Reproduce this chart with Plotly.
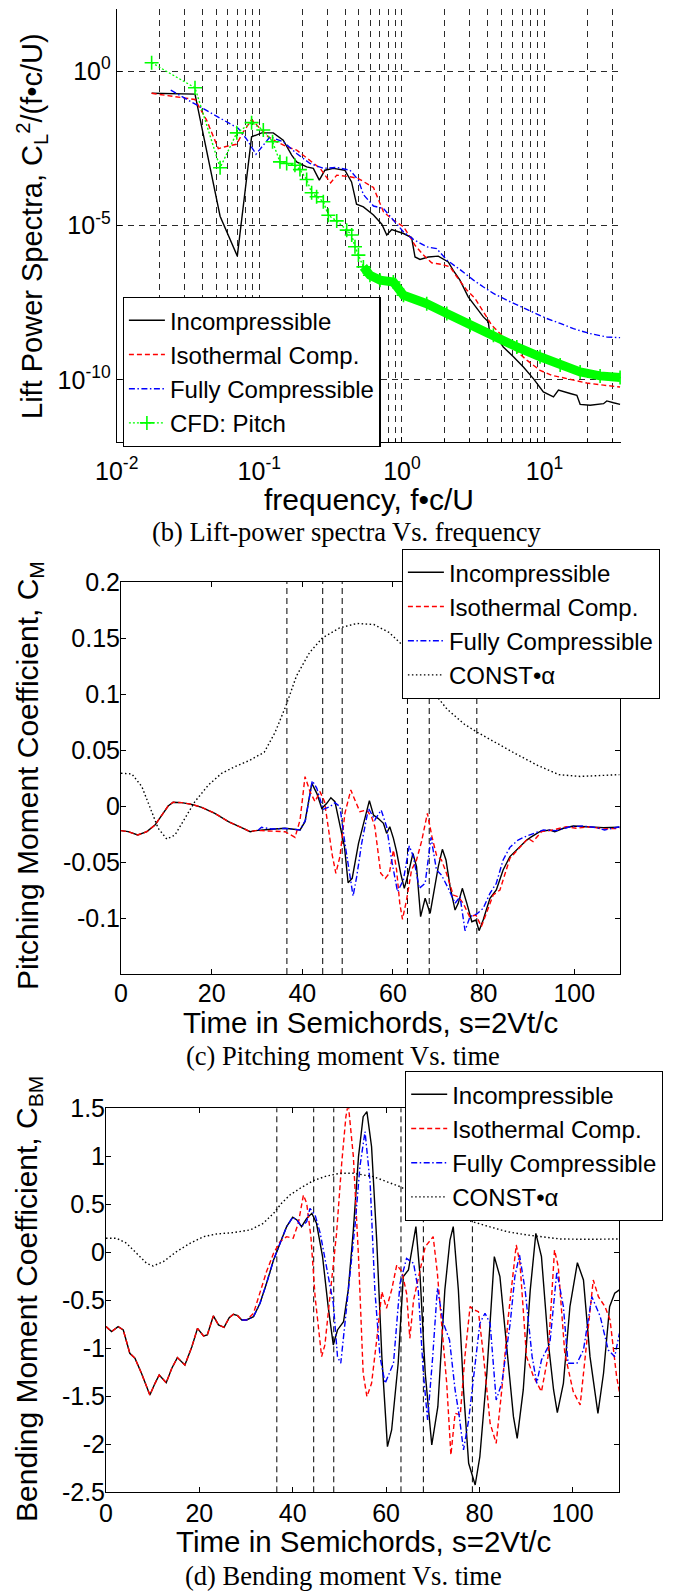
import plotly.graph_objects as go

W, H = 674, 1591
SANS = "Liberation Sans, Arial, Helvetica, sans-serif"
SERIF = "Liberation Serif, Times New Roman, serif"

# ---------------- (b) lift power spectra ----------------
inc_freq = [0.01758, 0.0354, 0.0531, 0.0701, 0.0883, 0.104, 0.1253, 0.1472, 0.1687, 0.1828,
            0.2148, 0.2393, 0.2636, 0.2884, 0.3304, 0.398, 0.4436, 0.4808, 0.537, 0.632,
            0.723, 0.783, 0.849, 1.026, 1.169, 1.236, 1.340, 1.531, 1.799, 2.113,
            2.291, 2.553, 2.917, 3.342, 3.724, 4.036, 4.102, 4.624, 5.140, 6.053,
            7.112, 8.356, 9.817, 11.56, 12.53, 15.14, 16.87, 17.78, 20.89, 25.94,
            27.35, 30.48, 33.88]
inc_psd = [0.1905, 0.1799, 2.0e-5, 1.02e-6, 7.41e-3, 1.0e-2, 1.0e-2, 5.75e-3, 1.91e-3, 1.15e-3,
           7.94e-4, 7.08e-4, 2.95e-4, 6.17e-4, 7.08e-4, 6.17e-4, 2.57e-4, 4.9e-5, 3.98e-5, 2.19e-5,
           1.10e-5, 4.9e-6, 7.41e-6, 5.5e-6, 4.07e-6, 9.55e-7, 7.94e-7, 9.55e-7, 1.02e-6, 6.61e-7,
           3.55e-7, 1.70e-7, 4.9e-8, 2.04e-8, 1.10e-8, 7.59e-9, 4.07e-9, 2.45e-9, 1.17e-9, 5.62e-10,
           2.63e-10, 1.10e-10, 4.07e-11, 2.82e-11, 4.68e-11, 3.63e-11, 3.16e-11, 1.62e-11, 1.51e-11, 1.70e-11,
           2.09e-11, 1.82e-11, 1.62e-11]

iso_freq = [0.01758, 0.0263, 0.0354, 0.0427, 0.0516, 0.0575, 0.0692, 0.0773, 0.0883, 0.1012,
            0.1156, 0.1324, 0.1556, 0.1828, 0.2265, 0.2667, 0.3162, 0.3491, 0.4325, 0.4955,
            0.632, 0.6855, 0.743, 0.871, 1.026, 1.140, 1.236, 1.416, 1.618, 1.901,
            2.178, 2.427, 2.851, 3.258, 3.724, 4.266, 4.887, 6.053, 7.516, 9.311,
            11.25, 14.32, 19.82, 25.94, 33.88]
iso_psd = [0.1905, 0.148, 0.120, 0.0257, 3.09e-3, 3.55e-3, 4.27e-3, 1.07e-2, 2.69e-2, 1.38e-2,
           7.41e-3, 5.13e-3, 3.55e-3, 2.75e-3, 1.32e-3, 7.08e-4, 2.40e-4, 4.27e-4, 3.80e-4, 3.31e-4,
           1.70e-4, 6.61e-5, 2.75e-5, 1.48e-5, 9.12e-6, 4.27e-6, 2.29e-6, 1.10e-6, 6.17e-7, 5.50e-7,
           4.57e-7, 2.19e-7, 8.13e-8, 4.37e-8, 1.58e-8, 5.89e-9, 3.16e-9, 1.05e-9, 4.37e-10, 2.04e-10,
           1.41e-10, 1.10e-10, 7.94e-11, 6.76e-11, 5.89e-11]

fc_freq = [0.02393, 0.0364, 0.0504, 0.0714, 0.0817, 0.0948, 0.1189, 0.1472, 0.1828, 0.2265,
           0.2812, 0.3491, 0.4325, 0.4955, 0.537, 0.583, 0.632, 0.743, 0.871, 1.026,
           1.205, 1.493, 1.754, 2.065, 2.559, 3.177, 3.733, 4.385, 5.445, 6.745,
           8.356, 10.37, 12.88, 15.96, 20.89, 27.35, 33.88]
fc_psd = [0.240, 0.0794, 0.0331, 0.0138, 6.17e-3, 2.04e-3, 7.41e-3, 5.13e-3, 2.14e-3, 1.02e-3,
          7.08e-4, 7.59e-4, 6.17e-4, 2.95e-4, 1.0e-4, 6.31e-5, 4.27e-5, 3.55e-5, 1.48e-5, 6.17e-6,
          3.55e-6, 2.04e-6, 1.78e-6, 7.59e-7, 3.72e-7, 1.70e-7, 1.02e-7, 6.31e-8, 3.80e-8, 2.45e-8,
          1.58e-8, 9.77e-9, 6.76e-9, 4.57e-9, 3.16e-9, 2.45e-9, 2.34e-9]

cfd_freq = [0.01758, 0.0354, 0.0531, 0.0695, 0.0883, 0.1067, 0.1239, 0.1396, 0.1556, 0.1778,
            0.1928, 0.2148, 0.2328, 0.2523, 0.2812, 0.3048, 0.3491, 0.4102, 0.4446, 0.4688,
            0.4955, 0.537, 0.597, 0.703, 0.871, 1.026, 1.493, 2.065, 3.013, 4.385,
            6.397, 9.311, 12.88, 17.78, 24.55, 33.88]
cfd_psd = [1.862, 0.288, 7.41e-4, 1.0e-2, 2.14e-2, 1.23e-2, 5.13e-3, 1.15e-3, 1.02e-3, 8.91e-4,
           6.46e-4, 3.09e-4, 1.15e-4, 8.51e-5, 5.89e-5, 2.14e-5, 1.41e-5, 7.08e-6, 4.90e-6, 2.04e-6,
           1.10e-6, 4.57e-7, 2.45e-7, 1.70e-7, 1.48e-7, 5.50e-8, 2.95e-8, 1.41e-8, 5.89e-9, 2.82e-9,
           1.17e-9, 5.62e-10, 3.02e-10, 1.82e-10, 1.35e-10, 1.20e-10]
cfd_dense_from = 21   # from here on the CFD samples are packed into a solid band

# ---------------- (c) pitching moment ----------------
mom_inc_t = [0, 1.6, 3.7, 5.7, 7.5, 9.3, 10.4, 11.5, 13.4, 15.6,
             17.8, 20.7, 23.7, 26.6, 28.5, 29.6, 31.0, 33.2, 36.2, 39.5,
             40.6, 42.1, 43.2, 44.3, 45.4, 46.3, 47.2, 48.3, 49.3, 50.1,
             51.0, 52.4, 53.5, 54.8, 55.7, 56.7, 57.9, 58.6, 59.3, 60.1,
             60.8, 61.7, 62.5, 63.4, 64.4, 65.2, 66.1, 67.1, 68.2, 69.3,
             70.0, 70.9, 71.7, 72.6, 73.7, 74.4, 75.3, 76.3, 77.4, 78.3,
             79.0, 79.9, 81.4, 82.8, 84.3, 85.8, 88.0, 89.5, 90.6, 92.4,
             94.6, 95.7, 97.6, 99.8, 102.7, 106.4, 110.0]
mom_inc = [-0.0220, -0.0229, -0.0259, -0.0229, -0.0170, -0.0065, 0.0000, 0.0033, 0.0030, 0.0015,
           -0.0012, -0.0065, -0.0140, -0.0193, -0.0229, -0.0220, -0.0214, -0.0208, -0.0199, -0.0214,
           -0.0140, 0.0202, 0.0113, -0.0021, 0.0024, 0.0074, 0.0039, -0.0185, -0.0363, -0.0685,
           -0.0646, -0.0333, -0.0155, 0.0048, -0.0080, -0.0110, -0.0155, -0.0244, -0.0185, -0.0289,
           -0.0408, -0.0601, -0.0735, -0.0601, -0.0423, -0.0542, -0.0988, -0.0824, -0.0958, -0.0720,
           -0.0542, -0.0387, -0.0482, -0.0720, -0.0929, -0.0869, -0.0735, -0.0869, -0.1033, -0.1018,
           -0.1113, -0.1018, -0.0824, -0.0750, -0.0571, -0.0452, -0.0363, -0.0304, -0.0274, -0.0229,
           -0.0214, -0.0229, -0.0199, -0.0179, -0.0185, -0.0193, -0.0190]

mom_iso_t = [0, 1.6, 3.7, 5.7, 7.5, 9.3, 10.4, 11.5, 13.4, 15.6,
             17.8, 20.7, 23.7, 26.6, 28.5, 29.6, 31.0, 36.2, 38.4, 39.5,
             40.6, 41.7, 42.8, 43.9, 44.9, 45.7, 46.6, 47.4, 48.3, 49.4,
             50.7, 51.6, 52.7, 54.2, 55.3, 56.0, 56.6, 57.3, 58.3, 59.2,
             60.1, 60.8, 61.5, 62.1, 63.0, 64.1, 65.2, 66.3, 67.6, 68.6,
             69.6, 70.7, 71.8, 73.3, 74.4, 75.5, 76.9, 78.3, 79.5, 80.6,
             82.1, 83.6, 85.8, 88.0, 89.8, 90.9, 92.8, 95.3, 98.2, 100.4,
             103.4, 106.4, 110.0]
mom_iso = [-0.0220, -0.0229, -0.0259, -0.0229, -0.0170, -0.0065, 0.0000, 0.0033, 0.0030, 0.0015,
           -0.0012, -0.0065, -0.0140, -0.0193, -0.0229, -0.0220, -0.0220, -0.0230, -0.0280, -0.0125,
           0.0262, 0.0128, 0.0039, 0.0128, 0.0039, -0.0185, -0.0438, -0.0601, -0.0452, -0.0065,
           0.0143, 0.0054, -0.0051, -0.0036, -0.0100, -0.0185, -0.0363, -0.0601, -0.0646, -0.0601,
           -0.0393, -0.0571, -0.0869, -0.1012, -0.0839, -0.0571, -0.0482, -0.0318, -0.0065, -0.0274,
           -0.0438, -0.0482, -0.0601, -0.0795, -0.0810, -0.0869, -0.0988, -0.0973, -0.1077, -0.0958,
           -0.0795, -0.0750, -0.0467, -0.0369, -0.0289, -0.0318, -0.0229, -0.0214, -0.0185, -0.0199,
           -0.0185, -0.0205, -0.0199]

mom_fc_t = [30.3, 31.0, 33.2, 36.2, 39.5, 40.7, 42.2, 43.2, 44.6, 46.1,
            47.2, 48.3, 49.4, 50.4, 51.2, 52.0, 53.1, 54.6, 56.0, 57.4,
            58.6, 59.7, 61.0, 62.3, 63.6, 64.5, 65.8, 67.1, 68.4, 69.6,
            70.7, 72.2, 73.7, 74.8, 75.9, 77.0, 78.5, 79.9, 81.4, 82.8,
            84.3, 85.8, 87.6, 89.5, 91.7, 93.2, 96.1, 99.0, 101.9, 104.9,
            106.7, 110.0]
mom_fc = [-0.0214, -0.0190, -0.0205, -0.0200, -0.0214, -0.0125, 0.0226, 0.0158, -0.0030, -0.0006,
          0.0030, -0.0006, -0.0333, -0.0586, -0.0804, -0.0631, -0.0333, -0.0021, -0.0125, -0.0036,
          -0.0185, -0.0482, -0.0765, -0.0661, -0.0357, -0.0452, -0.0735, -0.0690, -0.0280, -0.0571,
          -0.0616, -0.0735, -0.0869, -0.0810, -0.1113, -0.0988, -0.0964, -0.0914, -0.0780, -0.0690,
          -0.0482, -0.0369, -0.0304, -0.0268, -0.0238, -0.0214, -0.0220, -0.0185, -0.0179, -0.0193,
          -0.0214, -0.0185]

mom_alpha_t = [0, 2.4, 4.6, 6.4, 8.2, 10.1, 11.9, 14.1, 16.3, 19.3,
               22.2, 25.1, 28.3, 31.6, 34.0, 36.4, 38.7, 41.6, 44.4, 48.2,
               52.0, 55.8, 59.1, 62.0, 68.1, 71.9, 75.7, 78.6, 82.4, 87.1,
               91.9, 96.6, 101.3, 106.1, 110.0]
mom_alpha = [0.0292, 0.0286, 0.0173, -0.0006, -0.0199, -0.0295, -0.0259, -0.0110, 0.0039, 0.0188,
             0.0292, 0.0351, 0.0406, 0.0480, 0.0658, 0.0896, 0.1160, 0.1370, 0.1500, 0.1590,
             0.1630, 0.1620, 0.1550, 0.1440, 0.1060, 0.0866, 0.0732, 0.0658, 0.0570, 0.0466,
             0.0363, 0.0280, 0.0264, 0.0273, 0.0280]

# ---------------- (d) bending moment ----------------
bend_inc_t = [0, 1.2, 2.6, 3.7, 5.1, 6.2, 7.6, 9.4, 10.5, 11.4,
              12.9, 14.1, 15.3, 16.9, 18.4, 19.6, 20.9, 21.7, 23.0, 24.1,
              25.3, 26.4, 27.3, 28.2, 29.1,
              30.1, 31.6, 33.0, 34.4, 35.9, 37.3, 38.7, 40.0, 40.9, 41.9,
              43.0, 44.1, 45.1, 46.4, 47.6, 48.7, 49.6, 50.9, 51.9, 53.0,
              54.1, 55.1, 55.9, 56.9, 58.0, 59.1, 60.3, 61.2, 62.6, 63.7,
              64.8, 65.9, 66.4, 67.3, 68.4, 69.8, 71.1, 72.6, 73.7, 74.4,
              75.5, 76.6, 77.7, 79.1, 80.1, 81.6, 83.2, 84.4, 85.9, 87.3,
              88.1, 89.4, 90.9, 92.1, 93.3, 94.7, 95.9, 96.7, 98.0, 99.4,
              101.0, 102.3, 103.7, 105.4, 106.6, 107.9, 109.0, 110.0]
bend_inc = [-0.774, -0.826, -0.774, -0.809, -1.052, -1.104, -1.260, -1.486, -1.365, -1.278,
            -1.358, -1.208, -1.097, -1.174, -0.983, -0.792, -0.872, -0.861, -0.663, -0.757,
            -0.781, -0.681, -0.646, -0.660, -0.705,
            -0.705, -0.670, -0.531, -0.323, -0.080, 0.094, 0.267, 0.365, 0.337, 0.267,
            0.354, 0.406, 0.302, -0.045, -0.566, -0.965, -0.809, -0.722, -0.392, 0.233,
            0.997, 1.413, 1.465, 1.100, 0.128, -1.087, -2.024, -1.851, -1.156, -0.253,
            -0.184, 0.128, 0.267, -0.253, -1.260, -2.007, -1.608, -0.392, 0.128, 0.267,
            -0.392, -1.434, -2.198, -2.424, -2.128, -1.260, -0.045, -0.253, -1.017, -1.712,
            -1.938, -1.434, -0.392, 0.198, -0.045, -0.913, -1.434, -1.670, -1.365, -0.566,
            -0.108, -0.288, -1.087, -1.677, -1.260, -0.566, -0.427, -0.392]

bend_iso_t = [0, 1.2, 2.6, 3.7, 5.1, 6.2, 7.6, 9.4, 10.5, 11.4,
              12.9, 14.1, 15.3, 16.9, 18.4, 19.6, 20.9, 21.7, 23.0, 24.1,
              25.3, 26.4, 27.3, 28.2, 29.1,
              30.1, 31.6, 33.0, 34.4, 35.9, 37.3, 38.7, 40.1, 41.2, 42.3,
              43.0, 43.9, 44.8, 46.2, 46.9, 48.0, 49.4, 50.5, 51.4, 51.9,
              53.0, 54.1, 55.1, 55.9, 56.9, 58.0, 59.1, 60.1, 61.2, 62.3,
              63.4, 64.4, 65.1, 65.9, 67.0, 68.4, 70.1, 71.0, 71.9, 73.0,
              73.9, 74.8, 75.9, 76.9, 78.0, 78.9, 79.8, 80.9, 82.3, 83.6,
              84.8, 86.2, 87.9, 88.7, 90.1, 91.6, 93.3, 94.7, 96.1, 96.9,
              98.3, 100.1, 101.6, 103.0, 104.4, 105.5, 106.9, 108.0, 109.4, 110.0]
bend_iso = [-0.774, -0.826, -0.774, -0.809, -1.052, -1.104, -1.260, -1.486, -1.365, -1.278,
            -1.358, -1.208, -1.097, -1.174, -0.983, -0.792, -0.872, -0.861, -0.663, -0.757,
            -0.781, -0.681, -0.646, -0.660, -0.705,
            -0.705, -0.635, -0.427, -0.201, -0.010, 0.111, 0.163, 0.146, 0.302, 0.597,
            0.510, 0.163, -0.462, -1.087, -0.965, -0.462, 0.198, 0.927, 1.413, 1.550,
            0.997, -0.045, -1.260, -1.503, -1.365, -0.913, -0.410, -0.583, -0.392, -0.132,
            -0.201, -0.427, -0.896, -0.497, -0.253, 0.059, 0.163, -0.219, -0.740, -1.365,
            -2.111, -1.677, -1.694, -1.087, -0.566, -0.601, -0.618, -1.087, -1.781, -1.990,
            -1.434, -0.670, 0.076, -0.115, -1.087, -1.295, -1.451, -1.087, 0.024, -0.149,
            -1.052, -1.451, -1.590, -0.948, -0.288, -0.462, -0.566, -0.705, -1.295, -1.451]

bend_fc_t = [29.1, 30.1, 31.6, 33.0, 34.4, 35.9, 37.3, 38.7, 40.0, 40.9,
             41.9, 43.0, 43.7, 44.8, 45.9, 47.3, 48.7, 49.6, 50.3, 51.2,
             52.3, 53.4, 54.4, 55.5, 56.6, 57.6, 58.7, 59.8, 61.6, 63.0,
             64.4, 65.9, 66.9, 68.0, 68.9, 70.0, 71.0, 72.3, 73.6, 74.8,
             75.6, 76.6, 77.7, 79.1, 80.1, 81.2, 82.3, 83.6, 84.8, 86.6,
             87.6, 88.6, 89.8, 91.3, 92.3, 93.3, 95.1, 96.6, 98.0, 99.0,
             100.9, 102.3, 104.1, 105.9, 107.6, 109.0, 110.0]
bend_fc = [-0.705, -0.705, -0.670, -0.531, -0.323, -0.080, 0.094, 0.267, 0.365, 0.337,
           0.267, 0.319, 0.458, 0.389, 0.198, -0.184, -0.531, -1.087, -1.156, -0.740,
           -0.253, 0.302, 0.892, 1.257, 0.719, -0.392, -1.087, -1.365, -1.156, -0.323,
           -0.063, -0.115, -0.392, -1.260, -1.747, -1.087, -0.375, -0.740, -0.913, -1.434,
           -1.677, -2.059, -1.747, -1.156, -0.740, -0.635, -0.740, -1.538, -1.365, -0.740,
           -0.253, -0.028, -0.392, -1.087, -1.365, -1.122, -0.948, -0.201, -0.566, -1.156,
           -1.156, -1.017, -0.462, -0.670, -1.017, -1.087, -0.844]

bend_alpha_t = [0, 2.3, 4.4, 6.6, 8.7, 10.1, 12.3, 15.1, 18.0, 20.9,
                23.7, 27.3, 30.9, 33.7, 35.9, 37.6, 39.4, 41.6, 44.4, 47.3,
                50.1, 53.0, 57.3, 60.1, 63.0, 73.9, 77.3, 81.6, 85.9, 90.1,
                93.0, 97.3, 103.0, 110.0]
bend_alpha = [0.146, 0.146, 0.094, -0.010, -0.115, -0.142, -0.097, 0.007, 0.094, 0.163,
              0.191, 0.205, 0.233, 0.302, 0.406, 0.510, 0.597, 0.667, 0.747, 0.795,
              0.823, 0.823, 0.788, 0.736, 0.684, 0.406, 0.337, 0.274, 0.215, 0.181,
              0.163, 0.139, 0.135, 0.139]

# times marked by vertical dashed lines in (c) and (d)
event_times = [36.6, 44.5, 48.8, 63.2, 68.0, 78.5]

# tick labels
freq_decades = [0.01, 0.1, 1, 10]
freq_decade_text = ["10<sup>-2</sup>", "10<sup>-1</sup>", "10<sup>0</sup>", "10<sup>1</sup>"]
psd_ticks = [1e-10, 1e-5, 1]
psd_tick_text = ["10<sup>-10</sup>", "10<sup>-5</sup>", "10<sup>0</sup>"]
time_ticks = [0, 20, 40, 60, 80, 100]
cm_ticks = [-0.1, -0.05, 0, 0.05, 0.1, 0.15, 0.2]
cm_tick_text = ["-0.1", "-0.05", "0", "0.05", "0.1", "0.15", "0.2"]
cbm_ticks = [-2.5, -2, -1.5, -1, -0.5, 0, 0.5, 1, 1.5]
cbm_tick_text = ["-2.5", "-2", "-1.5", "-1", "-0.5", "0", "0.5", "1", "1.5"]

# ---------------- helpers ----------------
def fx(px):
    return px / W


def fy(py):
    return 1 - py / H


BLACK, RED, BLUE, GREEN = "#000000", "#ff0000", "#0000ff", "#00ff00"
LW = 1.4
DASH = "5px,3px"
DASHDOT = "6px,2.5px,1.5px,2.5px"
DOT = "1.5px,2.5px"

fig = go.Figure()

# lift power spectra
fig.add_trace(go.Scatter(x=inc_freq, y=inc_psd, name="Incompressible", mode="lines",
                         line=dict(color=BLACK, width=LW), xaxis="x", yaxis="y", legend="legend"))
fig.add_trace(go.Scatter(x=iso_freq, y=iso_psd, name="Isothermal Comp.", mode="lines",
                         line=dict(color=RED, width=LW, dash=DASH), xaxis="x", yaxis="y", legend="legend"))
fig.add_trace(go.Scatter(x=fc_freq, y=fc_psd, name="Fully Compressible", mode="lines",
                         line=dict(color=BLUE, width=LW, dash=DASHDOT), xaxis="x", yaxis="y", legend="legend"))
fig.add_trace(go.Scatter(x=cfd_freq, y=cfd_psd, name="CFD: Pitch", mode="lines+markers",
                         line=dict(color=GREEN, width=LW, dash="2px,2px"),
                         marker=dict(symbol="cross-thin", size=10, color=GREEN,
                                     line=dict(color=GREEN, width=1.6)),
                         xaxis="x", yaxis="y", legend="legend"))
fig.add_trace(go.Scatter(x=cfd_freq[cfd_dense_from:], y=cfd_psd[cfd_dense_from:], mode="lines",
                         line=dict(color=GREEN, width=9), showlegend=False,
                         xaxis="x", yaxis="y"))

# pitching moment
fig.add_trace(go.Scatter(x=mom_inc_t, y=mom_inc, name="Incompressible", mode="lines",
                         line=dict(color=BLACK, width=LW), xaxis="x2", yaxis="y2", legend="legend2"))
fig.add_trace(go.Scatter(x=mom_iso_t, y=mom_iso, name="Isothermal Comp.", mode="lines",
                         line=dict(color=RED, width=LW, dash=DASH), xaxis="x2", yaxis="y2", legend="legend2"))
fig.add_trace(go.Scatter(x=mom_fc_t, y=mom_fc, name="Fully Compressible", mode="lines",
                         line=dict(color=BLUE, width=LW, dash=DASHDOT), xaxis="x2", yaxis="y2", legend="legend2"))
fig.add_trace(go.Scatter(x=mom_alpha_t, y=mom_alpha, name="CONST•α", mode="lines",
                         line=dict(color=BLACK, width=LW, dash=DOT), xaxis="x2", yaxis="y2", legend="legend2"))

# bending moment
fig.add_trace(go.Scatter(x=bend_inc_t, y=bend_inc, name="Incompressible", mode="lines",
                         line=dict(color=BLACK, width=LW), xaxis="x3", yaxis="y3", legend="legend3"))
fig.add_trace(go.Scatter(x=bend_iso_t, y=bend_iso, name="Isothermal Comp.", mode="lines",
                         line=dict(color=RED, width=LW, dash=DASH), xaxis="x3", yaxis="y3", legend="legend3"))
fig.add_trace(go.Scatter(x=bend_fc_t, y=bend_fc, name="Fully Compressible", mode="lines",
                         line=dict(color=BLUE, width=LW, dash=DASHDOT), xaxis="x3", yaxis="y3", legend="legend3"))
fig.add_trace(go.Scatter(x=bend_alpha_t, y=bend_alpha, name="CONST•α", mode="lines",
                         line=dict(color=BLACK, width=LW, dash=DOT), xaxis="x3", yaxis="y3", legend="legend3"))

# event markers
shapes = []
for xr, yr in (("x2", "y2 domain"), ("x3", "y3 domain")):
    for t in event_times:
        shapes.append(dict(type="line", xref=xr, yref=yr, x0=t, x1=t, y0=0, y1=1,
                           line=dict(color=BLACK, width=1, dash="6px,4px"), layer="below"))

# minor log-axis positions (2..9 per decade)
freq_minor = [m * d for d in freq_decades for m in range(2, 10) if m * d <= 34]

GRIDC = "#2a2a2a"
GRIDDASH = "6px,5px"
tickfont = dict(family=SANS, size=25, color=BLACK)
legfont = dict(family=SANS, size=24, color=BLACK)
common_lin = dict(showgrid=False, zeroline=False, showline=True, linecolor=BLACK, linewidth=1,
                  mirror="ticks", ticks="inside", ticklen=5, tickcolor=BLACK, tickfont=tickfont)
grid = dict(showgrid=True, gridcolor=GRIDC, gridwidth=1, griddash=GRIDDASH)

legend_common = dict(xanchor="left", yanchor="top", bgcolor="white", bordercolor=BLACK,
                     borderwidth=1.2, font=legfont, itemwidth=36, tracegroupgap=0)

annots = []


def note(text, x, y, size, family=SANS, angle=0):
    annots.append(dict(text=text, x=fx(x), y=fy(y), xref="paper", yref="paper",
                       xanchor="center", yanchor="middle", showarrow=False, textangle=angle,
                       font=dict(family=family, size=size, color=BLACK)))


note("Lift Power Spectra, C<sub>L</sub><sup>2</sup>/(f•c/U)", 32, 226, 29, angle=-90)
note("frequency, f•c/U", 369, 500, 30)
note("(b) Lift-power spectra Vs. frequency", 347, 532, 26.5, family=SERIF)
note("Pitching Moment Coefficient, C<sub>M</sub>", 29, 776, 30, angle=-90)
note("Time in Semichords, s=2Vt/c", 370, 1023, 29.5)
note("(c) Pitching moment Vs. time", 343, 1056, 26.5, family=SERIF)
note("Bending Moment Coefficient, C<sub>BM</sub>", 28, 1299, 30, angle=-90)
note("Time in Semichords, s=2Vt/c", 363, 1541, 29.5)
note("(d) Bending moment Vs. time", 343, 1576, 26.5, family=SERIF)

fig.update_layout(
    width=W, height=H,
    margin=dict(l=0, r=0, t=0, b=0, pad=0, autoexpand=False),
    paper_bgcolor="white", plot_bgcolor="white",
    hovermode=False,
    font=dict(family=SANS, color=BLACK),
    xaxis=dict(type="log", domain=[fx(116.7), fx(621)], range=[-2, 1.5365], anchor="y",
               tickmode="array", tickvals=freq_decades, ticktext=freq_decade_text,
               minor=dict(tickmode="array", tickvals=freq_minor, ticks="inside", ticklen=3,
                          tickcolor=BLACK, showgrid=True, gridcolor=GRIDC, gridwidth=1,
                          griddash=GRIDDASH),
               showline=True, linecolor=BLACK, linewidth=1, mirror=False, zeroline=False,
               ticks="inside", ticklen=5, tickcolor=BLACK, tickfont=tickfont,
               ticklabelstandoff=7, **grid),
    yaxis=dict(type="log", domain=[fy(441.7), fy(9.3)], range=[-12, 2], anchor="x",
               tickmode="array", tickvals=psd_ticks, ticktext=psd_tick_text,
               showline=True, linecolor=BLACK, linewidth=1, mirror=False, zeroline=False,
               ticks="inside", ticklen=5, tickcolor=BLACK, tickfont=tickfont,
               ticklabelstandoff=0, **grid),
    xaxis2=dict(domain=[fx(121), fx(619.6)], range=[0, 110], anchor="y2",
                tickmode="array", tickvals=time_ticks, ticktext=[str(v) for v in time_ticks],
                ticklabelstandoff=-3, **common_lin),
    yaxis2=dict(domain=[fy(974), fy(582)], range=[-0.15, 0.2], anchor="x2",
                tickmode="array", tickvals=cm_ticks, ticktext=cm_tick_text,
                ticklabelstandoff=-5, **common_lin),
    xaxis3=dict(domain=[fx(106), fx(619.4)], range=[0, 110], anchor="y3",
                tickmode="array", tickvals=time_ticks, ticktext=[str(v) for v in time_ticks],
                ticklabelstandoff=-1, **common_lin),
    yaxis3=dict(domain=[fy(1492.3), fy(1108.3)], range=[-2.5, 1.5], anchor="x3",
                tickmode="array", tickvals=cbm_ticks, ticktext=cbm_tick_text,
                ticklabelstandoff=-5, **common_lin),
    legend=dict(x=fx(122.7), y=fy(297), **legend_common),
    legend2=dict(x=fx(401.7), y=fy(549), **legend_common),
    legend3=dict(x=fx(405), y=fy(1071), **legend_common),
    shapes=shapes,
    annotations=annots,
)

fig.write_html("out.html", config={"displayModeBar": False})
